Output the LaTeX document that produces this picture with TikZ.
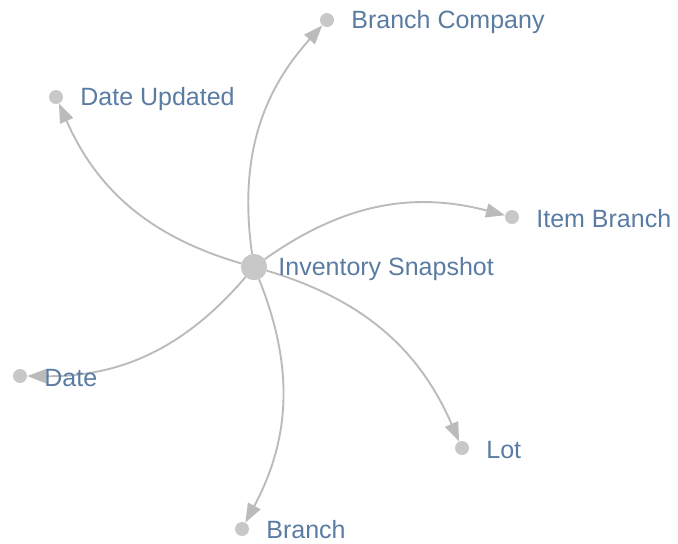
\documentclass[tikz,border=0pt]{standalone}
\usepackage{fontspec}
\setmainfont{Liberation Sans}
\usetikzlibrary{arrows.meta}
\definecolor{nodegray}{HTML}{C8C8C8}
\definecolor{edgegray}{HTML}{BBBBBB}
\definecolor{txt}{HTML}{5A7CA2}
\tikzset{
  leaf/.style={circle,fill=nodegray,draw=none,minimum size=14pt,inner sep=0pt},
  hub/.style={circle,fill=nodegray,draw=none,minimum size=26pt,inner sep=0pt},
  lbl/.style={text=txt,inner sep=0pt,anchor=west,font=\fontsize{25}{30}\selectfont},
  conn/.style={draw=edgegray,line width=1.9pt,-{Triangle[length=19pt,width=14pt]},bend left=25}
}
\begin{document}
\begin{tikzpicture}[x=1pt,y=-1pt]
\useasboundingbox (0,0) rectangle (678,544);
\node[hub] (c) at (254,267) {};
\node[leaf] (bc) at (327,20) {};
\node[leaf] (du) at (56,97) {};
\node[leaf] (ib) at (512,217) {};
\node[leaf] (d) at (20,376) {};
\node[leaf] (lot) at (462,448) {};
\node[leaf] (br) at (242,529) {};
\draw[conn] (c) to (bc);
\draw[conn] (c) to (du);
\draw[conn] (c) to (ib);
\draw[conn] (c) to (d);
\draw[conn] (c) to (lot);
\draw[conn] (c) to (br);
\node[hub] at (c) {};
\node[lbl] at ([xshift=11pt,yshift=-2pt]c.east) {Inventory Snapshot};
\node[lbl] at ([xshift=17pt,yshift=-2pt]bc.east) {Branch Company};
\node[lbl] at ([xshift=17pt,yshift=-2pt]du.east) {Date Updated};
\node[lbl] at ([xshift=17pt,yshift=-2pt]ib.east) {Item Branch};
\node[lbl] at ([xshift=17pt,yshift=-2pt]d.east) {Date};
\node[lbl] at ([xshift=17pt,yshift=-2pt]lot.east) {Lot};
\node[lbl,anchor=base west] at ([xshift=17pt,yshift=-9pt]br.east) {Branch};
\end{tikzpicture}
\end{document}
